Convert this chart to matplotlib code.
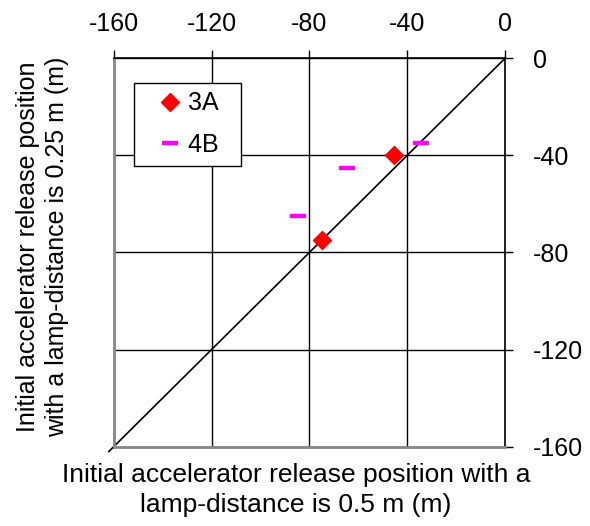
import matplotlib
matplotlib.use('Agg')
import matplotlib.pyplot as plt

plt.rcParams['font.family'] = ['Liberation Sans', 'DejaVu Sans']
plt.rcParams['axes.unicode_minus'] = False

# data
a3_x = [-45.5, -75]
a3_y = [-40, -75]
b4_x = [-34.5, -64.5, -84.5]
b4_y = [-35, -45, -65]
ticks = [-160, -120, -80, -40, 0]

fig = plt.figure(figsize=(5.9, 5.26), dpi=100)
ax = fig.add_axes([0.1927, 0.1508, 0.6633, 0.7384])

ax.set_xlim(-160, 0)
ax.set_ylim(-160, 0)
ax.set_xticks(ticks)
ax.set_yticks(ticks)
ax.grid(True, color='black', linewidth=1)
ax.set_axisbelow(True)

# 1:1 line
ax.plot([-162, 0], [-162, 0], color='black', linewidth=1.2, clip_on=False, zorder=2)

ax.plot(a3_x, a3_y, linestyle='none', marker='D', markersize=9.5,
        color='#ff0000', label='3A  ', zorder=3)
ax.plot(b4_x, b4_y, linestyle='none', marker='_', markersize=12,
        markeredgewidth=3.2, color='#ff00ff', label='4B  ', zorder=3)

ax.xaxis.tick_top()
ax.yaxis.tick_right()
ax.tick_params(axis='both', labelsize=18, length=6, width=1, direction='out', color='black')
ax.tick_params(axis='x', pad=10)
ax.tick_params(axis='y', pad=14)

ax.spines['top'].set_color('black')
ax.spines['right'].set_color('black')
ax.spines['left'].set_color('#888888')
ax.spines['bottom'].set_color('#888888')
for s in ax.spines.values():
    s.set_linewidth(1.2)
ax.spines['left'].set_linewidth(2)
ax.spines['bottom'].set_linewidth(2)

ax.set_xlabel('Initial accelerator release position with a\nlamp-distance is 0.5 m (m)',
              fontsize=19, labelpad=12, linespacing=1.3)
ax.set_ylabel('Initial accelerator release position\nwith a lamp-distance is 0.25 m (m)',
              fontsize=18, labelpad=32, linespacing=1.25)
ax.xaxis.set_label_position('bottom')
ax.yaxis.set_label_position('left')
ax.xaxis.label.set_x(0.466)
ax.yaxis.label.set_y(0.515)

leg = ax.legend(loc='upper left', bbox_to_anchor=(0.052, 0.937), fontsize=18,
                frameon=True, fancybox=False, edgecolor='black', framealpha=1,
                handlelength=2.2, handletextpad=-0.4, labelspacing=0.7,
                borderpad=0.35, borderaxespad=0)
leg.get_frame().set_linewidth(1)

fig.savefig('out.png', dpi=100)
